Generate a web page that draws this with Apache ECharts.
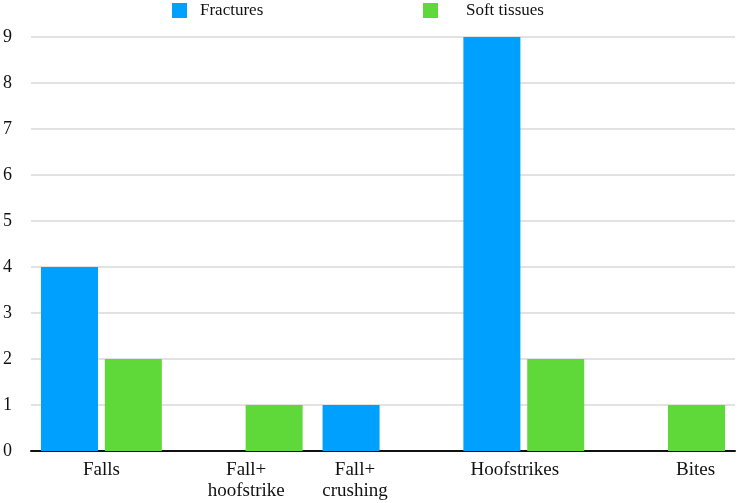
<!DOCTYPE html>
<html>
<head>
<meta charset="utf-8">
<script src="https://cdn.jsdelivr.net/npm/echarts@6/dist/echarts.min.js"></script>
<style>html,body{margin:0;padding:0;background:#fff}#c{width:738px;height:503px}</style>
</head>
<body>
<div id="c"></div>
<script>
var categories = ['Falls', 'Fall+\nhoofstrike', 'Fall+\ncrushing', 'Hoofstrikes', 'Bites'];
var fractures = [4, 0, 1, 9, 0];
var softTissues = [2, 1, 0, 2, 1];
var yTicks = [0, 1, 2, 3, 4, 5, 6, 7, 8, 9];

var labelShift = [0, 4, -28, -9, 31];
var catData = categories.map(function (c, i) {
  var s = labelShift[i];
  return { value: c, textStyle: { padding: s >= 0 ? [0, 0, 0, 2 * s] : [0, -2 * s, 0, 0] } };
});

var font = '"Liberation Serif", "DejaVu Serif", serif';
var chart = echarts.init(document.getElementById('c'));
chart.setOption({
  animation: false,
  legend: [
    { data: ['Fractures'], left: 172, top: 2, padding: 0, itemWidth: 15, itemHeight: 15, icon: 'rect',
      textStyle: { fontFamily: font, fontSize: 17, color: '#111', padding: [0, 0, 0, 8] } },
    { data: ['Soft tissues'], left: 423, top: 2, padding: 0, itemWidth: 15, itemHeight: 15, icon: 'rect',
      textStyle: { fontFamily: font, fontSize: 17, color: '#111', padding: [0, 0, 0, 23] } }
  ],
  grid: { left: 26, right: 3, top: 37, bottom: 52, containLabel: false },
  xAxis: {
    type: 'category',
    data: catData,
    axisLine: { lineStyle: { color: '#111', width: 2 } },
    axisTick: { show: false },
    axisLabel: { fontFamily: font, fontSize: 19, color: '#111', lineHeight: 21, margin: 9, interval: 0 }
  },
  yAxis: {
    type: 'value',
    min: yTicks[0], max: yTicks[yTicks.length - 1], interval: 1,
    axisLine: { show: false },
    axisTick: { show: false },
    splitLine: { lineStyle: { color: '#d9d9d9', width: 1.5 } },
    axisLabel: { fontFamily: font, fontSize: 18, color: '#111', margin: 19 }
  },
  series: [
    { name: 'Fractures', type: 'bar', data: fractures, barWidth: 57, barGap: '12%',
      itemStyle: { color: '#00A0FF' } },
    { name: 'Soft tissues', type: 'bar', data: softTissues, barWidth: 57,
      itemStyle: { color: '#5FD83A' } }
  ]
});
</script>
</body>
</html>
